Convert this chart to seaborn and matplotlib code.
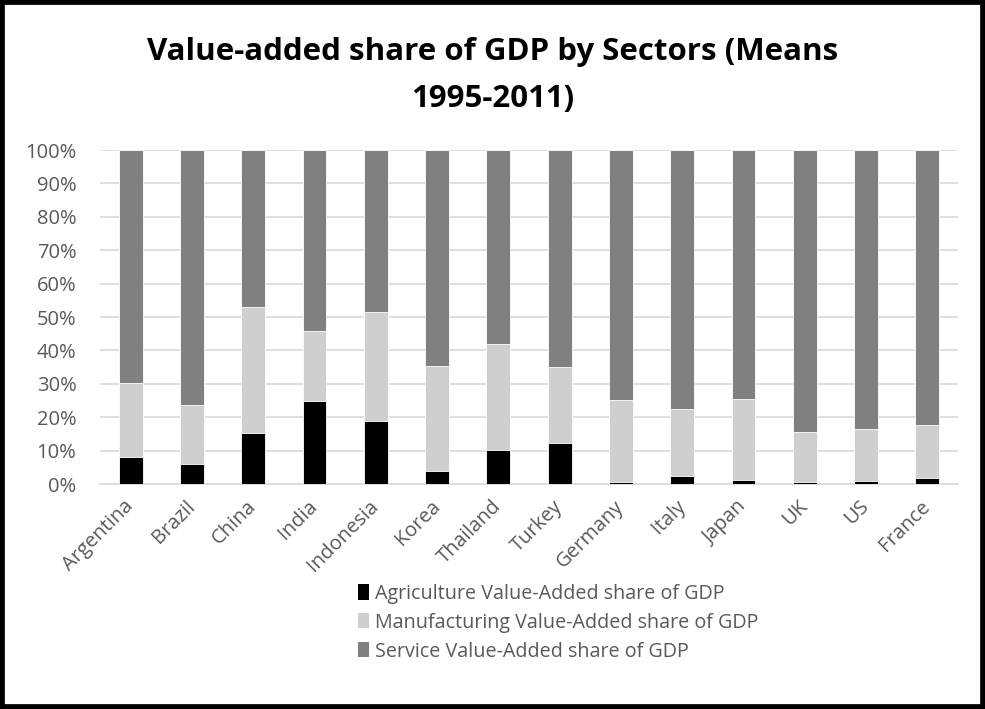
import matplotlib
matplotlib.use("Agg")
import matplotlib.pyplot as plt
import seaborn as sns
import pandas as pd
import numpy as np
from matplotlib.patches import Patch, Rectangle
from matplotlib.ticker import PercentFormatter

countries = ["Argentina", "Brazil", "China", "India", "Indonesia", "Korea", "Thailand",
             "Turkey", "Germany", "Italy", "Japan", "UK", "US", "France"]
agriculture = [8.0, 6.0, 15.3, 25.0, 18.8, 3.9, 10.1, 12.4, 0.7, 2.5, 1.3, 0.7, 1.0, 1.9]
manufacturing = [22.2, 17.7, 37.6, 20.7, 32.8, 31.3, 31.9, 22.5, 24.4, 20.1, 24.0, 15.0, 15.4, 15.9]
service = [69.8, 76.3, 47.1, 54.3, 48.4, 64.8, 58.0, 65.1, 74.9, 77.4, 74.7, 84.3, 83.6, 82.2]
series_names = ["Agriculture Value-Added share of GDP",
                "Manufacturing Value-Added share of GDP",
                "Service Value-Added share of GDP"]
colors = ["#000000", "#d0cece", "#808080"]

sns.set_theme(style="white")
plt.rcParams["font.family"] = ["Open Sans", "DejaVu Sans"]

df = pd.DataFrame({"country": countries, "agri": agriculture,
                   "manu": manufacturing, "serv": service})
df["c1"] = df["agri"]
df["c2"] = df["agri"] + df["manu"]
df["c3"] = df["c2"] + df["serv"]

fig = plt.figure(figsize=(9.85, 7.09), dpi=100)
ax = fig.add_axes([100/985, 1-484/709, 858/985, 334/709])

for col, color in zip(["c3", "c2", "c1"], colors[::-1]):
    sns.barplot(data=df, x="country", y=col, color=color, width=0.39,
                edgecolor="white", linewidth=0.6, ax=ax, zorder=3)

ax.set_xlim(-0.5, len(countries) - 0.5)
ax.set_ylim(0, 100)
ax.set_yticks(np.arange(0, 101, 10))
ax.yaxis.set_major_formatter(PercentFormatter(decimals=0))
ax.grid(axis="y", color="#d9d9d9", linewidth=1.2, zorder=0)
ax.set_axisbelow(True)
for s in ["top", "right", "left"]:
    ax.spines[s].set_visible(False)
ax.spines["bottom"].set_color("#d9d9d9")
ax.spines["bottom"].set_linewidth(1.2)
ax.set_xlabel("")
ax.set_ylabel("")
ax.tick_params(axis="y", labelsize=14.5, labelcolor="#595959", length=0, pad=17)
ax.tick_params(axis="x", labelsize=14.5, labelcolor="#595959", length=0, pad=14)
ax.set_xticks(range(len(countries)))
ax.set_xticklabels(countries, rotation=45, ha="right", va="center", rotation_mode="anchor")

fig.text(0.5, 1-52/709, "Value-added share of GDP by Sectors (Means", ha="center", va="center",
         fontsize=22.5, fontweight="bold", color="black")
fig.text(0.5, 1-99/709, "1995-2011)", ha="center", va="center",
         fontsize=22.5, fontweight="bold", color="black")

handles = [Patch(facecolor=c, edgecolor="none") for c in colors]
leg = fig.legend(handles, series_names, loc="upper left", bbox_to_anchor=(348/985, 1-574/709),
                 frameon=False, fontsize=14.2, labelcolor="#595959", handlelength=0.55,
                 handleheight=0.8, handletextpad=0.3, labelspacing=0.45, borderpad=0)

fig.patches.append(Rectangle((0, 0), 1, 1, transform=fig.transFigure, fill=False,
                             edgecolor="black", linewidth=7, zorder=10))

fig.savefig("out.png", dpi=100)
